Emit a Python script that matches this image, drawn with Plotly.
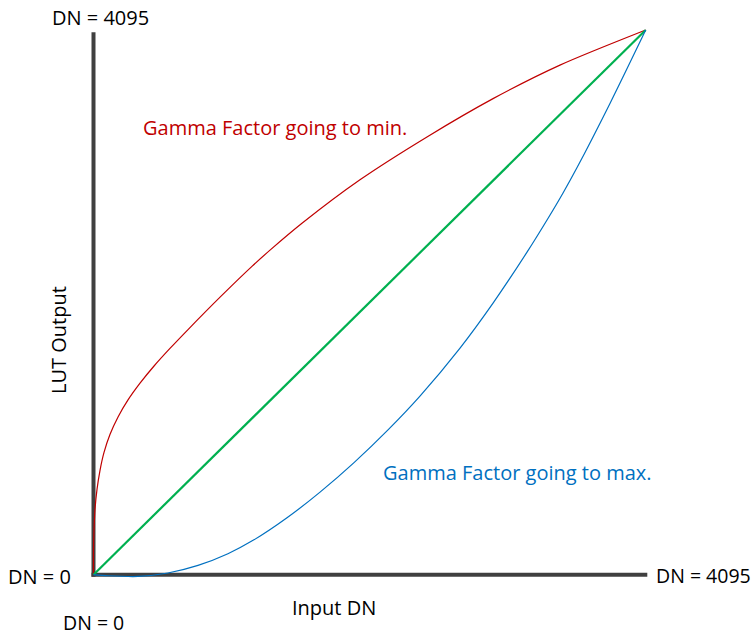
import plotly.graph_objects as go

# Gamma LUT curves, input DN vs LUT output (12-bit)
input_linear = [0, 4095]
output_linear = [0, 4095]

gamma_min_input = [0, 0, 4, 11, 26, 48, 78, 122, 182, 256, 345, 449, 567,
                   701, 946, 1175, 1309, 1546, 1976, 2473, 2963, 3459, 4095]
gamma_min_output = [0, 186, 341, 491, 641, 783, 919, 1054, 1186, 1314, 1440,
                    1569, 1701, 1843, 2094, 2318, 2440, 2642, 2969, 3291, 3579,
                    3831, 4095]

gamma_max_input = [0, 108, 330, 552, 775, 997, 1190, 1435, 1680, 1932, 2184,
                   2421, 2718, 2963, 3215, 3370, 3482, 3585, 3830, 4095]
gamma_max_output = [0, -8, -13, 13, 70, 158, 262, 428, 621, 843, 1089, 1343,
                    1704, 2042, 2425, 2678, 2870, 3059, 3543, 4095]

DN_MAX = 4095

W, H = 753, 636
# plot area in pixels
L, R, T, B = 60, 700, 10, 600
# pixel positions of data origin and of (DN_MAX, DN_MAX)
OX, OY = 93.5, 574.7
EX, EY = 645.7, 30.0
kx = (EX - OX) / DN_MAX
ky = (OY - EY) / DN_MAX
x_range = [(L - OX) / kx, (R - OX) / kx]
y_range = [(OY - B) / ky, (OY - T) / ky]


def px_to_paper(px, py):
    return (px - L) / (R - L), (B - py) / (B - T)


FONT = "Open Sans"
AXIS_COLOR = "#404040"

fig = go.Figure()

fig.add_trace(go.Scatter(x=gamma_min_input, y=gamma_min_output, mode="lines",
                         line=dict(color="#C00000", width=1.2, shape="spline",
                                   smoothing=0.8),
                         hoverinfo="skip", showlegend=False))
fig.add_trace(go.Scatter(x=input_linear, y=output_linear, mode="lines",
                         line=dict(color="#00B050", width=2.2),
                         hoverinfo="skip", showlegend=False))
fig.add_trace(go.Scatter(x=gamma_max_input, y=gamma_max_output, mode="lines",
                         line=dict(color="#0070C0", width=1.2, shape="spline",
                                   smoothing=0.8),
                         hoverinfo="skip", showlegend=False))

# thick axis bars
x_end = (647.3 - OX) / kx
y_end = (OY - 32.3) / ky
over = 2.0 / kx
fig.add_shape(type="line", x0=-over, y0=0, x1=x_end, y1=0, layer="below",
              line=dict(color=AXIS_COLOR, width=4))
fig.add_shape(type="line", x0=0, y0=-over, x1=0, y1=y_end, layer="below",
              line=dict(color=AXIS_COLOR, width=4))


def label(text, px, py, xanchor="center", color="black", size=20, angle=0):
    ax, ay = px_to_paper(px, py)
    fig.add_annotation(text=text, x=ax, y=ay, xref="paper", yref="paper",
                       xanchor=xanchor, yanchor="middle", showarrow=False,
                       textangle=angle, borderpad=0,
                       font=dict(family=FONT, size=size, color=color))


label("DN = 4095", 100, 17)
label("DN = 4095", 751.5, 575, xanchor="right", size=19.5)
label("DN = 0", 72, 576, xanchor="right")
label("DN = 0", 93, 622.5, size=19.5)
label("Input DN", 334, 607)
label("LUT Output", 58, 340, angle=-90)
label("Gamma Factor going to min.", 141.7, 128, xanchor="left", color="#C00000")
label("Gamma Factor going to max.", 381.7, 472, xanchor="left", color="#0070C0")

fig.update_layout(
    width=W, height=H,
    margin=dict(l=L, r=W - R, t=T, b=H - B),
    paper_bgcolor="white", plot_bgcolor="white",
    xaxis=dict(range=x_range, visible=False, fixedrange=True),
    yaxis=dict(range=y_range, visible=False, fixedrange=True),
)

fig.write_html("out.html")
